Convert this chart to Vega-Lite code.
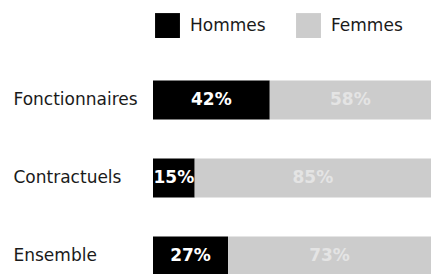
{
  "$schema": "https://vega.github.io/schema/vega-lite/v6.json",
  "autosize": "none",
  "width": 278,
  "height": 234,
  "padding": {"left": 153, "top": 61, "right": 1, "bottom": 0},
  "background": "white",
  "config": {
    "view": {"stroke": null},
    "font": "DejaVu Sans"
  },
  "data": {
    "values": [
      {"categorie": "Fonctionnaires", "sexe": "Hommes", "ordre": 1, "valeur": 42, "label": "42%"},
      {"categorie": "Fonctionnaires", "sexe": "Femmes", "ordre": 2, "valeur": 58, "label": "58%"},
      {"categorie": "Contractuels", "sexe": "Hommes", "ordre": 1, "valeur": 15, "label": "15%"},
      {"categorie": "Contractuels", "sexe": "Femmes", "ordre": 2, "valeur": 85, "label": "85%"},
      {"categorie": "Ensemble", "sexe": "Hommes", "ordre": 1, "valeur": 27, "label": "27%"},
      {"categorie": "Ensemble", "sexe": "Femmes", "ordre": 2, "valeur": 73, "label": "73%"}
    ]
  },
  "transform": [
    {"stack": "valeur", "groupby": ["categorie"], "sort": [{"field": "ordre", "order": "ascending"}], "as": ["v0", "v1"]}
  ],
  "encoding": {
    "y": {
      "field": "categorie",
      "type": "nominal",
      "sort": ["Fonctionnaires", "Contractuels", "Ensemble"],
      "scale": {"paddingInner": 0.5, "paddingOuter": 0.25},
      "axis": {
        "title": null,
        "domain": false,
        "ticks": false,
        "labelAlign": "left",
        "labelPadding": 140,
        "labelFontSize": 17,
        "labelColor": "#1a1a1a",
        "labelFont": "DejaVu Sans"
      }
    }
  },
  "layer": [
    {
      "mark": {"type": "bar"},
      "encoding": {
        "x": {"field": "v0", "type": "quantitative", "scale": {"domain": [0, 100], "nice": false}, "axis": null},
        "x2": {"field": "v1"},
        "color": {
          "field": "sexe",
          "type": "nominal",
          "scale": {"domain": ["Hommes", "Femmes"], "range": ["#000000", "#cccccc"]},
          "legend": {
            "title": null,
            "orient": "none",
            "legendX": 2,
            "legendY": -48,
            "direction": "horizontal",
            "symbolType": "square",
            "symbolSize": 620,
            "symbolStrokeWidth": 0,
            "labelFontSize": 17,
            "labelFont": "DejaVu Sans",
            "labelColor": "#1a1a1a",
            "labelOffset": 10,
            "columnPadding": 30
          }
        }
      }
    },
    {
      "transform": [
        {"fold": ["v0", "v1"], "as": ["bord", "pos"]},
        {"aggregate": [{"op": "mean", "field": "pos", "as": "milieu"}], "groupby": ["categorie", "sexe", "label"]}
      ],
      "mark": {"type": "text", "fontSize": 17, "fontWeight": "bold", "font": "DejaVu Sans", "baseline": "middle", "align": "center"},
      "encoding": {
        "x": {"field": "milieu", "type": "quantitative"},
        "text": {"field": "label"},
        "color": {
          "condition": {"test": "datum.sexe === 'Hommes'", "value": "#ffffff"},
          "value": "#e4e4e4"
        }
      }
    }
  ]
}
